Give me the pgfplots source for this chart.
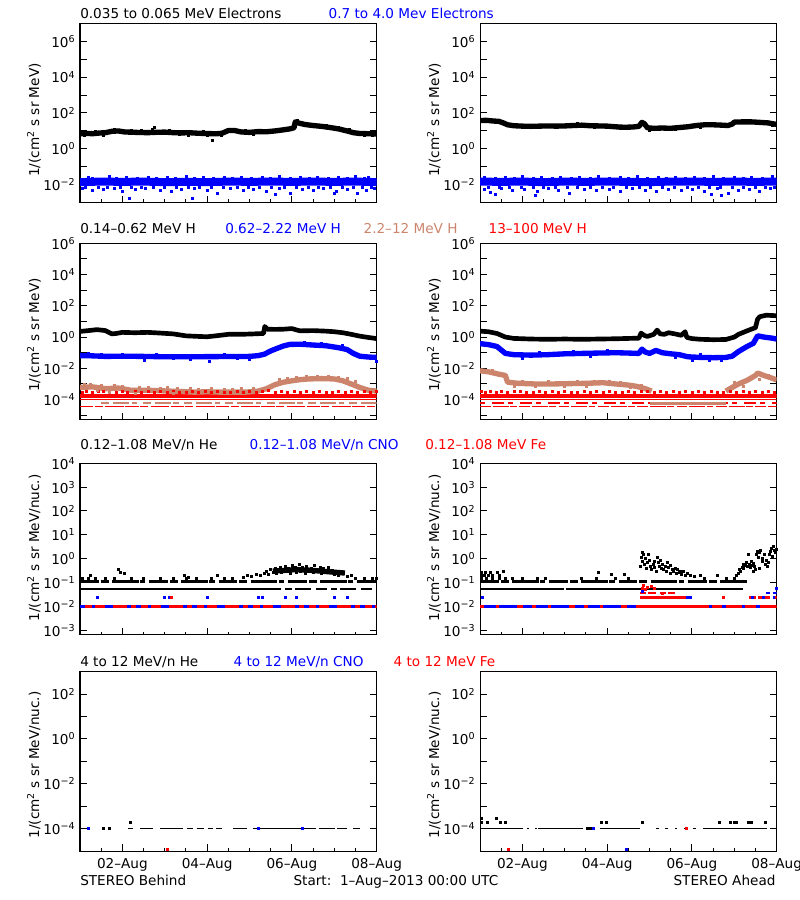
\documentclass[border=0pt]{standalone}
\usepackage{fontspec}
\setmainfont{DejaVu Sans}
\usepackage{pgfplots}
\pgfplotsset{compat=1.18}
\definecolor{ctan}{RGB}{204,133,108}
\newcommand{\tl}[1]{10\textsuperscript{#1}}
\pgfplotsset{every axis/.append style={scale only axis, width=222.5pt, anchor=south west,
    xmin=0, xmax=7, axis line style={line width=0.75pt},
    tick align=inside, tick style={line width=0.75pt, black},
    xtick={1,3,5,7}, minor xtick={0.5,1.5,2,2.5,3.5,4,4.5,5.5,6,6.5},
    xtick pos=left, ytick pos=both,
    major tick length=5pt, minor tick length=2.5pt, yminorticks=false,
    ticklabel style={font=\fontsize{10.2}{12}\selectfont},
    xticklabel style={yshift=-2pt}}}
\begin{document}
\begin{tikzpicture}[font=\fontsize{10.2}{12}\selectfont]
\useasboundingbox (0,0) rectangle (600pt,675pt);

% ================= ROW 1 LEFT =================
\begin{axis}[ymode=log, at={(60pt,522.975pt)}, height=134.55pt, ymin=1e-3, ymax=1e7,
    ytick={1e-2,1e-1,1,10,100,1e3,1e4,1e5,1e6},
    yticklabels={\tl{−2},,\tl{0},,\tl{2},,\tl{4},,\tl{6}}, xticklabels={}]
\addplot[blue, line width=6pt] coordinates {(0,0.014)(0.5,0.015)(1,0.0145)(1.5,0.015)(2,0.014)(2.5,0.0145)(3,0.014)(3.5,0.015)(4,0.0145)(4.5,0.015)(5,0.0145)(5.5,0.015)(6,0.0145)(6.5,0.015)(7,0.014)};
\addplot[only marks, mark=square*, mark size=0.75pt, blue] coordinates {(0.2,0.026)(0.7,0.028)(1.1,0.025)(1.6,0.027)(2.05,0.026)(2.5,0.028)(2.9,0.025)(3.4,0.026)(3.8,0.027)(4.3,0.025)(4.7,0.029)(5.2,0.026)(5.6,0.026)(6.1,0.025)(6.5,0.03)(6.8,0.027)
(0.05,0.006)(0.3,0.005)(0.55,0.0055)(0.8,0.006)(1.0,0.0045)(1.3,0.0055)(1.55,0.006)(1.9,0.005)(2.15,0.0042)(2.4,0.0055)(2.7,0.006)(3.0,0.0048)(3.25,0.0035)(3.55,0.006)(3.85,0.005)(4.1,0.0055)(4.4,0.0045)(4.7,0.006)(4.95,0.0035)(5.25,0.0055)(5.5,0.005)(5.75,0.006)(6.05,0.0045)(6.3,0.0055)(6.55,0.0035)(6.75,0.005)(6.95,0.006)(1.17,0.0018)(2.65,0.0018)(4.6,0.003)(6.0,0.0032)
(0.12,0.0075)(0.42,0.007)(0.65,0.0075)(0.95,0.007)(1.22,0.0072)(1.45,0.007)(1.72,0.0075)(2.0,0.007)(2.28,0.0075)(2.55,0.007)(2.82,0.0072)(3.1,0.007)(3.38,0.0075)(3.7,0.007)(3.98,0.0072)(4.22,0.007)(4.52,0.0075)(4.82,0.007)(5.1,0.0072)(5.38,0.007)(5.62,0.0075)(5.9,0.007)(6.18,0.0072)(6.45,0.007)(6.65,0.0075)(6.88,0.007)
(0.3,0.023)(0.85,0.023)(1.35,0.022)(1.8,0.023)(2.25,0.022)(2.7,0.023)(3.15,0.022)(3.6,0.023)(4.05,0.022)(4.5,0.023)(4.95,0.022)(5.4,0.023)(5.85,0.022)(6.3,0.023)(6.7,0.022)};
\addplot[black, line width=4pt, line join=round] coordinates {(0,7.0)(0.15,7.3)(0.3,7.0)(0.45,7.6)(0.6,8.0)(0.75,9.5)(0.9,10)(1.05,8.8)(1.2,8.5)(1.4,8.2)(1.6,8.0)(1.8,8.4)(2.0,8.6)(2.2,8.0)(2.4,7.8)(2.6,7.9)(2.8,7.4)(3.0,7.2)(3.2,6.9)(3.35,7.4)(3.5,10.5)(3.65,10.5)(3.8,8.8)(4.0,8.3)(4.2,9.2)(4.4,9.0)(4.6,10)(4.8,11.5)(4.95,13)(5.05,15)(5.08,32)(5.15,28)(5.3,23)(5.5,20)(5.7,18)(5.9,15.5)(6.1,13)(6.3,10)(6.45,8)(6.6,7.2)(6.8,7.0)(7.0,6.8)};
\addplot[only marks, mark=square*, mark size=0.75pt, black] coordinates {(0.35,9.5)(1.2,11)(1.45,10.5)(1.7,12)(1.75,16)(2.1,10.5)(2.55,6)(3.13,3)(3.33,5.8)(3.9,11)(4.45,11)(5.12,40)(2.9,9.5)(0.55,6)(4.1,6.5)(6.9,5.7)(6.1,16)(5.55,22)(0.1,5.6)(0.8,12.5)(2.35,6.2)(3.0,5.8)(4.25,11.5)(4.7,13)(5.8,20)(6.35,12.5)(6.7,5.6)};
\end{axis}

% ================= ROW 1 RIGHT =================
\begin{axis}[ymode=log, at={(360pt,522.975pt)}, height=134.55pt, ymin=1e-3, ymax=1e7,
    ytick={1e-2,1e-1,1,10,100,1e3,1e4,1e5,1e6},
    yticklabels={\tl{−2},,\tl{0},,\tl{2},,\tl{4},,\tl{6}}, xticklabels={}]
\addplot[blue, line width=6pt] coordinates {(0,0.015)(0.5,0.0145)(1,0.015)(1.5,0.014)(2,0.015)(2.5,0.0145)(3,0.015)(3.5,0.0145)(4,0.014)(4.5,0.015)(5,0.015)(5.5,0.0145)(6,0.015)(6.5,0.0145)(7,0.015)};
\addplot[only marks, mark=square*, mark size=0.75pt, blue] coordinates {(0.1,0.027)(0.6,0.026)(1.0,0.028)(1.45,0.025)(1.9,0.027)(2.35,0.026)(2.8,0.028)(3.3,0.025)(3.7,0.03)(4.2,0.026)(4.6,0.027)(5.05,0.025)(5.5,0.028)(6.0,0.026)(6.4,0.027)(6.9,0.028)
(0.1,0.0055)(0.25,0.004)(0.5,0.006)(0.75,0.005)(1.05,0.0055)(1.35,0.0045)(1.6,0.006)(1.85,0.0052)(2.1,0.0035)(2.45,0.0058)(2.75,0.005)(3.05,0.0055)(3.3,0.0045)(3.6,0.006)(3.9,0.005)(4.15,0.0045)(4.45,0.0058)(4.75,0.005)(5.0,0.0055)(5.3,0.0045)(5.6,0.006)(5.85,0.0035)(6.1,0.005)(6.35,0.0055)(6.6,0.0045)(6.85,0.006)(0.35,0.003)(1.3,0.0025)(5.45,0.003)(5.7,0.0025)
(0.2,0.0072)(0.45,0.007)(0.7,0.0075)(0.98,0.007)(1.25,0.0072)(1.5,0.007)(1.78,0.0075)(2.05,0.007)(2.3,0.0075)(2.6,0.007)(2.88,0.0072)(3.15,0.007)(3.45,0.0075)(3.75,0.007)(4.02,0.0072)(4.3,0.007)(4.58,0.0075)(4.88,0.007)(5.15,0.0072)(5.42,0.007)(5.68,0.0075)(5.95,0.007)(6.22,0.0072)(6.5,0.007)(6.72,0.0075)(6.95,0.007)
(0.35,0.023)(0.8,0.022)(1.25,0.023)(1.7,0.022)(2.15,0.023)(2.6,0.022)(3.05,0.023)(3.5,0.022)(3.95,0.023)(4.4,0.022)(4.85,0.023)(5.3,0.022)(5.75,0.023)(6.2,0.022)(6.65,0.023)};
\addplot[black, line width=4pt, line join=round] coordinates {(0,38)(0.15,39)(0.3,36)(0.45,34)(0.55,28)(0.65,22)(0.8,19.5)(1.0,18.5)(1.2,18)(1.4,18.5)(1.6,19)(1.8,18.5)(2.0,19)(2.2,20)(2.4,21)(2.6,19.5)(2.8,19)(3.0,18.5)(3.2,17)(3.4,16)(3.6,16.5)(3.75,18)(3.82,30)(3.88,25)(3.95,15)(4.1,14)(4.3,14.5)(4.5,14)(4.7,15.5)(4.9,17)(5.1,20)(5.3,22)(5.5,22)(5.7,21)(5.85,20)(5.95,24)(6.0,31)(6.2,32)(6.4,32)(6.6,30)(6.8,28)(7.0,23)};
\addplot[only marks, mark=square*, mark size=0.75pt, black] coordinates {(2.3,26)(0.2,44)(1.5,22)(3.3,14)(4.2,12)(5.4,26)(6.5,36)(4.6,12.5)(6.9,20)(1.1,15.5)(2.7,16)(4.0,11.5)(5.2,17)(6.2,38)};
\end{axis}

% ================= ROW 2 LEFT =================
\begin{axis}[ymode=log, at={(60pt,360.525pt)}, height=132pt, ymin=5.5e-6, ymax=1e6,
    ytick={1e-5,1e-4,1e-3,1e-2,1e-1,1,10,100,1e3,1e4,1e5,1e6},
    yticklabels={,\tl{−4},,\tl{−2},,\tl{0},,\tl{2},,\tl{4},,\tl{6}}, xticklabels={}]
\addplot[red, line width=1pt, dash pattern=on 10pt off 1pt on 6pt off 2pt on 14pt off 1pt] coordinates {(0,3.8e-5)(7,3.8e-5)};
\addplot[ctan, line width=1.5pt, dash pattern=on 6pt off 3pt on 12pt off 2pt on 4pt off 4pt] coordinates {(0.5,5.9e-5)(7,5.9e-5)};
\addplot[red, line width=1pt] coordinates {(0,1.02e-4)(7,1.02e-4)};
\addplot[red, line width=3pt] coordinates {(0,1.8e-4)(7,1.8e-4)};
\addplot[only marks, mark=square*, mark size=0.75pt, red] coordinates {(0.05,3e-4)(0.15,3.4e-4)(0.3,2.9e-4)(0.42,3.2e-4)(0.55,3.5e-4)(0.7,2.8e-4)(0.85,3.1e-4)(1.0,3.4e-4)(1.12,2.9e-4)(1.3,3.2e-4)(1.45,3e-4)(1.6,3.5e-4)(1.75,2.8e-4)(1.9,3.2e-4)(2.05,3e-4)(2.2,3.4e-4)(2.35,2.9e-4)(2.5,3.1e-4)(2.65,3.5e-4)(2.8,2.8e-4)(2.95,3.2e-4)(3.1,3e-4)(3.25,3.4e-4)(3.4,2.9e-4)(3.55,3.1e-4)(3.7,3.3e-4)(3.85,2.8e-4)(4.0,3.2e-4)(4.15,3e-4)(4.3,3.5e-4)(4.45,3.8e-4)(4.6,2.9e-4)(4.75,3.3e-4)(4.9,3e-4)(5.05,3.4e-4)(5.2,2.8e-4)(5.35,3.2e-4)(5.5,3e-4)(5.65,3.5e-4)(5.8,2.9e-4)(5.95,3.1e-4)(6.1,3.4e-4)(6.25,2.8e-4)(6.4,3.2e-4)(6.55,3e-4)(6.7,3.5e-4)(6.85,2.9e-4)(7.0,3.2e-4)};
\addplot[ctan, line width=4pt, line join=round] coordinates {(0,6e-4)(0.3,6.5e-4)(0.6,5e-4)(0.9,5.5e-4)(1.2,4e-4)(1.5,4e-4)(1.8,3.8e-4)(2.1,3.5e-4)(2.4,3.3e-4)(2.7,3.0e-4)(3.0,3.2e-4)(3.3,3e-4)(3.6,3e-4)(3.9,3e-4)(4.2,3.5e-4)(4.4,5e-4)(4.6,9e-4)(4.8,1.3e-3)(5.0,1.6e-3)(5.2,1.9e-3)(5.4,2.1e-3)(5.7,2.2e-3)(6.0,2.1e-3)(6.2,1.6e-3)(6.4,1.0e-3)(6.6,6e-4)(6.8,4e-4)(7.0,3.5e-4)};
\addplot[only marks, mark=square*, mark size=0.75pt, ctan] coordinates {(0.1,9e-4)(0.5,8e-4)(1.0,7e-4)(1.4,6e-4)(1.9,5e-4)(2.3,5.5e-4)(2.8,4.5e-4)(3.4,4.5e-4)(3.8,5e-4)(4.7,2e-3)(5.1,2.8e-3)(5.6,3e-3)(6.1,2.8e-3)(0.7,3e-4)(1.3,2.7e-4)(4.5,6e-4)(6.5,1.5e-3)(0.25,9.5e-4)(0.8,8.5e-4)(1.6,6.5e-4)(2.05,6e-4)(2.6,5e-4)(3.1,5e-4)(3.6,4.8e-4)(4.1,5.5e-4)(4.9,2.2e-3)(5.35,3e-3)(5.85,3e-3)(6.3,2.2e-3)(0.4,4e-4)(2.2,2.6e-4)};
\addplot[blue, line width=4pt, line join=round] coordinates {(0,0.065)(0.3,0.063)(0.6,0.058)(1.0,0.06)(1.5,0.058)(2.0,0.055)(2.5,0.055)(3.0,0.056)(3.5,0.057)(4.0,0.058)(4.2,0.065)(4.35,0.08)(4.5,0.13)(4.65,0.19)(4.8,0.27)(4.95,0.34)(5.2,0.35)(5.5,0.31)(5.8,0.28)(6.1,0.21)(6.3,0.16)(6.45,0.09)(6.6,0.06)(6.8,0.053)(7.0,0.05)};
\addplot[only marks, mark=square*, mark size=0.75pt, blue] coordinates {(1.52,0.035)(3.05,0.03)(0.2,0.09)(2.2,0.042)(4.0,0.04)(7.0,0.03)(1.0,0.085)(2.6,0.04)(0.5,0.085)(1.8,0.08)(3.4,0.078)(3.7,0.042)(5.3,0.45)(5.7,0.4)(6.2,0.3)};
\addplot[black, line width=3.5pt, line join=round] coordinates {(0,2.3)(0.2,2.6)(0.4,3.0)(0.6,2.6)(0.75,1.6)(0.85,1.7)(1.0,2.0)(1.3,1.9)(1.6,2.0)(1.9,1.8)(2.2,1.6)(2.5,1.2)(2.8,1.1)(3.0,1.05)(3.2,1.2)(3.5,1.5)(3.8,1.5)(4.1,1.6)(4.33,1.7)(4.36,4.8)(4.42,3.2)(4.6,3.1)(4.8,3.2)(5.0,3.5)(5.1,2.9)(5.2,2.5)(5.5,2.6)(5.8,2.4)(6.0,2.2)(6.2,1.9)(6.4,1.5)(6.6,1.15)(6.8,0.95)(7.0,0.8)};
\end{axis}

% ================= ROW 2 RIGHT =================
\begin{axis}[ymode=log, at={(360pt,360.525pt)}, height=132pt, ymin=5.5e-6, ymax=1e6,
    ytick={1e-5,1e-4,1e-3,1e-2,1e-1,1,10,100,1e3,1e4,1e5,1e6},
    yticklabels={,\tl{−4},,\tl{−2},,\tl{0},,\tl{2},,\tl{4},,\tl{6}}, xticklabels={}]
\addplot[red, line width=1pt, dash pattern=on 8pt off 1.5pt on 12pt off 1pt on 5pt off 2pt] coordinates {(0,3.8e-5)(7,3.8e-5)};
\addplot[red, line width=1pt, dash pattern=on 4pt off 5pt on 9pt off 3pt] coordinates {(0,6.2e-5)(7,6.2e-5)};
\addplot[ctan, line width=2pt] coordinates {(4.0,5.9e-5)(5.8,5.9e-5)};
\addplot[red, line width=1pt] coordinates {(0,1.02e-4)(7,1.02e-4)};
\addplot[red, line width=3pt] coordinates {(0,1.8e-4)(7,1.8e-4)};
\addplot[only marks, mark=square*, mark size=0.75pt, red] coordinates {(0.02,3.2e-4)(0.12,2.9e-4)(0.25,3.5e-4)(0.38,3e-4)(0.5,3.3e-4)(0.65,2.8e-4)(0.8,3.2e-4)(0.95,3.4e-4)(1.1,2.9e-4)(1.25,3.1e-4)(1.4,3.5e-4)(1.55,2.8e-4)(1.7,3.2e-4)(1.85,3e-4)(2.0,3.4e-4)(2.15,2.9e-4)(2.3,3.1e-4)(2.45,3.5e-4)(2.6,2.8e-4)(2.75,3.2e-4)(2.9,3e-4)(3.05,3.4e-4)(3.2,2.9e-4)(3.35,3.1e-4)(3.5,3.3e-4)(3.65,2.8e-4)(3.8,3.2e-4)(3.95,3.6e-4)(4.1,3e-4)(4.25,3.5e-4)(4.4,2.9e-4)(4.55,3.3e-4)(4.7,3e-4)(4.85,3.4e-4)(5.0,2.8e-4)(5.15,3.2e-4)(5.3,3e-4)(5.45,3.5e-4)(5.6,2.9e-4)(5.75,3.1e-4)(5.9,3.4e-4)(6.05,2.8e-4)(6.2,3.2e-4)(6.35,3e-4)(6.5,3.5e-4)(6.65,2.9e-4)(6.8,3.3e-4)(6.95,3e-4)};
\addplot[ctan, line width=4pt, line join=round] coordinates {(0,7e-3)(0.2,6e-3)(0.45,4.2e-3)(0.6,3.5e-3)(0.65,1.3e-3)(0.9,1.1e-3)(1.3,1.0e-3)(1.7,1.0e-3)(2.1,1.05e-3)(2.5,1.1e-3)(2.9,1.2e-3)(3.2,1.0e-3)(3.5,8.5e-4)(3.7,7e-4)(3.9,5e-4)(4.05,3.5e-4)};
\addplot[ctan, line width=4pt, line join=round] coordinates {(5.8,3.5e-4)(5.95,6e-4)(6.1,1e-3)(6.3,1.7e-3)(6.5,3.5e-3)(6.55,5e-3)(6.7,3.5e-3)(6.9,2.3e-3)(7.0,1.8e-3)};
\addplot[only marks, mark=square*, mark size=0.75pt, ctan] coordinates {(0.3,8e-3)(1.0,1.5e-3)(1.6,1.4e-3)(2.3,1.5e-3)(2.7,1.6e-3)(3.3,1.3e-3)(3.8,8e-4)(0.8,7e-4)(2.0,7e-4)(6.2,7e-4)(6.6,2e-3)(1.3,7.2e-4)(2.5,7.5e-4)(3.05,1.6e-3)(3.55,6e-4)(6.0,1.2e-3)(6.8,3.8e-3)};
\addplot[blue, line width=4pt, line join=round] coordinates {(0,0.38)(0.2,0.33)(0.4,0.25)(0.6,0.09)(0.8,0.075)(1.2,0.07)(1.6,0.075)(2.0,0.085)(2.4,0.09)(2.8,0.095)(3.2,0.1)(3.5,0.095)(3.75,0.09)(3.82,0.17)(3.9,0.11)(4.0,0.09)(4.15,0.14)(4.3,0.1)(4.5,0.085)(4.7,0.075)(4.9,0.055)(5.2,0.05)(5.5,0.048)(5.8,0.05)(5.95,0.06)(6.1,0.12)(6.3,0.25)(6.45,0.4)(6.55,1.2)(6.7,1.0)(6.9,0.85)(7.0,0.75)};
\addplot[only marks, mark=square*, mark size=0.75pt, blue] coordinates {(5.0,0.035)(5.4,0.032)(5.7,0.033)(1.0,0.045)(2.6,0.06)(4.6,0.05)(1.4,0.11)(2.2,0.13)(3.0,0.14)(5.2,0.075)};
\addplot[black, line width=3.5pt, line join=round] coordinates {(0,2.4)(0.2,2.2)(0.4,1.7)(0.6,1.0)(0.8,0.82)(1.2,0.75)(1.6,0.72)(2.0,0.75)(2.4,0.72)(2.8,0.75)(3.2,0.78)(3.5,0.82)(3.75,0.85)(3.8,1.8)(3.87,1.3)(3.95,1.1)(4.1,1.5)(4.18,2.8)(4.25,1.6)(4.35,1.5)(4.45,1.9)(4.6,1.6)(4.75,1.3)(4.84,2.2)(4.88,0.95)(5.0,0.8)(5.2,0.72)(5.5,0.68)(5.8,0.7)(6.0,1.0)(6.1,1.5)(6.25,2.2)(6.4,3.2)(6.5,4.0)(6.55,14)(6.6,20)(6.75,25)(6.9,24)(7.0,23)};
\end{axis}

% ================= ROW 3 LEFT =================
\begin{axis}[ymode=log, at={(60pt,198.75pt)}, height=128.775pt, ymin=6.3e-4, ymax=1e4,
    ytick={1e-3,1e-2,1e-1,1,10,100,1e3,1e4},
    yticklabels={\tl{−3},\tl{−2},\tl{−1},\tl{0},\tl{1},\tl{2},\tl{3},\tl{4}}, xticklabels={}]
\addplot[red, line width=2pt] coordinates {(0,0.01)(7,0.01)};
\addplot[blue, line width=2pt, dash pattern=on 4pt off 5pt on 2pt off 8pt on 6pt off 10pt on 3pt off 4pt] coordinates {(0,0.01)(7,0.01)};
\addplot[only marks, mark=square*, mark size=0.75pt, blue] coordinates {(0.4,0.023)(2.0,0.023)(2.1,0.023)(3.0,0.023)(4.2,0.023)(4.3,0.023)(4.85,0.023)(5.1,0.023)(6.0,0.023)(6.3,0.023)};
\addplot[only marks, mark=square*, mark size=0.75pt, red] coordinates {(2.15,0.023)};
\addplot[black, line width=1.5pt] coordinates {(0,0.054)(4.5,0.054)};
\addplot[black, line width=1.5pt, dash pattern=on 8pt off 3pt on 5pt off 2pt on 12pt off 4pt] coordinates {(4.5,0.054)(7,0.054)};
\addplot[black, line width=2pt, dash pattern=on 14pt off 1.5pt on 6pt off 2.5pt on 20pt off 1pt on 4pt off 3pt] coordinates {(0,0.107)(7,0.107)};
\addplot[only marks, mark=square*, mark size=0.75pt, black] coordinates {(0.05,0.15)(0.2,0.15)(0.35,0.15)(0.6,0.15)(0.8,0.15)(1.2,0.15)(1.5,0.15)(1.9,0.15)(2.2,0.15)(2.5,0.15)(2.55,0.17)(2.75,0.15)(3.1,0.15)(3.4,0.15)(3.6,0.15)(6.5,0.15)(6.7,0.15)(6.9,0.15)(7.0,0.15)(0.9,0.35)(0.95,0.28)(1.05,0.25)(0.25,0.2)(2.45,0.2)(3.25,0.2)
(3.85,0.17)(3.95,0.2)(4.05,0.18)(4.15,0.22)(4.25,0.2)(4.35,0.25)(4.4,0.3)(4.45,0.22)(4.5,0.35)(4.55,0.28)(4.6,0.4)(4.62,0.25)(4.68,0.32)(4.72,0.45)(4.75,0.27)(4.8,0.35)(4.85,0.5)(4.88,0.3)(4.92,0.4)(4.95,0.25)(5.0,0.55)(5.03,0.33)(5.07,0.42)(5.1,0.28)(5.14,0.38)(5.18,0.6)(5.2,0.3)(5.25,0.45)(5.28,0.35)(5.32,0.25)(5.35,0.5)(5.4,0.32)(5.45,0.4)(5.5,0.28)(5.52,0.55)(5.58,0.35)(5.62,0.3)(5.66,0.45)(5.7,0.25)(5.75,0.38)(5.8,0.3)(5.85,0.42)(5.9,0.28)(5.95,0.33)(6.0,0.22)(6.05,0.3)(6.1,0.2)(6.2,0.25)(6.3,0.18)(6.4,0.2)};
\addplot[black, line width=4pt, line join=round] coordinates {(4.55,0.3)(4.8,0.32)(5.1,0.35)(5.4,0.33)(5.7,0.3)(6.0,0.27)(6.25,0.25)};
\end{axis}

% ================= ROW 3 RIGHT =================
\begin{axis}[ymode=log, at={(360pt,198.75pt)}, height=128.775pt, ymin=6.3e-4, ymax=1e4,
    ytick={1e-3,1e-2,1e-1,1,10,100,1e3,1e4},
    yticklabels={\tl{−3},\tl{−2},\tl{−1},\tl{0},\tl{1},\tl{2},\tl{3},\tl{4}}, xticklabels={}]
\addplot[blue, line width=2pt] coordinates {(0,0.01)(3.78,0.01)};
\addplot[red, line width=2pt, dash pattern=on 3pt off 9pt on 2pt off 14pt on 4pt off 7pt] coordinates {(0,0.01)(3.78,0.01)};
\addplot[red, line width=2pt] coordinates {(3.78,0.01)(7,0.01)};
\addplot[blue, line width=2pt, dash pattern=on 2pt off 8pt on 3pt off 12pt] coordinates {(5.4,0.01)(6.7,0.01)};
\addplot[red, line width=2pt] coordinates {(3.78,0.023)(4.85,0.023)};
\addplot[blue, line width=2pt] coordinates {(4.85,0.023)(5.0,0.023)};
\addplot[red, line width=2pt, dash pattern=on 5pt off 2pt on 3pt off 1pt] coordinates {(6.35,0.023)(7,0.023)};
\addplot[blue, line width=2pt, dash pattern=on 2pt off 6pt] coordinates {(6.4,0.023)(7,0.023)};
\addplot[red, line width=2pt, dash pattern=on 4pt off 2pt on 6pt off 3pt] coordinates {(3.78,0.036)(4.6,0.036)};
\addplot[blue, line width=2pt, dash pattern=on 3pt off 2pt] coordinates {(6.75,0.036)(7,0.036)};
\addplot[only marks, mark=square*, mark size=0.75pt, red] coordinates {(3.82,0.06)(3.86,0.075)(3.9,0.05)(3.95,0.065)(4.05,0.07)(4.1,0.055)(4.3,0.036)(5.75,0.023)};
\addplot[only marks, mark=square*, mark size=0.75pt, blue] coordinates {(0.05,0.023)(6.98,0.057)(3.83,0.045)};
\addplot[black, line width=1.5pt] coordinates {(0,0.054)(1.98,0.054)};
\addplot[black, line width=1.5pt] coordinates {(2.03,0.054)(6.2,0.054)};
\addplot[black, line width=2pt, dash pattern=on 14pt off 1.5pt on 6pt off 2.5pt on 20pt off 1pt on 4pt off 3pt] coordinates {(0,0.107)(6.3,0.107)};
\addplot[only marks, mark=square*, mark size=0.75pt, black] coordinates {(0.02,0.15)(0.15,0.15)(0.3,0.15)(0.45,0.15)(0.6,0.15)(0.75,0.15)(1.0,0.15)(1.35,0.15)(1.55,0.15)(2.4,0.15)(2.75,0.15)(3.2,0.15)(3.5,0.15)(5.3,0.15)(5.8,0.15)(6.0,0.15)(0.02,0.2)(0.1,0.2)(0.2,0.2)(0.3,0.2)(0.45,0.2)(0.02,0.28)(0.12,0.28)(0.25,0.28)(0.4,0.28)(0.55,0.3)(2.8,0.28)(3.1,0.22)(3.4,0.22)(5.6,0.2)(5.2,0.2)
(3.78,0.5)(3.8,1.2)(3.82,1.8)(3.84,0.8)(3.86,1.5)(3.88,0.6)(3.9,1.0)(3.92,0.4)(3.95,0.7)(3.98,1.6)(4.0,0.9)(4.02,0.5)(4.05,0.35)(4.08,0.6)(4.1,0.45)(4.12,0.8)(4.15,0.3)(4.18,1.1)(4.2,0.7)(4.22,0.5)(4.25,0.9)(4.28,0.4)(4.3,0.6)(4.33,0.35)(4.36,0.5)(4.4,0.3)(4.42,0.7)(4.45,0.45)(4.48,0.25)(4.5,0.55)(4.53,0.35)(4.56,0.3)(4.6,0.4)(4.63,0.25)(4.66,0.35)(4.7,0.28)(4.73,0.3)(4.76,0.22)(4.8,0.3)(4.84,0.2)(4.88,0.25)(4.95,0.2)(5.05,0.18)
(6.05,0.2)(6.1,0.25)(6.12,0.35)(6.15,0.3)(6.18,0.45)(6.2,0.6)(6.22,0.4)(6.25,0.55)(6.28,0.7)(6.3,0.5)(6.32,1.5)(6.35,0.6)(6.38,0.45)(6.4,0.8)(6.42,0.55)(6.45,0.65)(6.48,0.5)(6.5,0.35)(6.52,1.5)(6.55,2.0)(6.57,1.2)(6.6,1.8)(6.62,2.3)(6.65,1.0)(6.67,0.8)(6.7,1.5)(6.72,0.6)(6.75,0.9)(6.78,0.5)(6.8,0.7)(6.83,1.6)(6.85,2.0)(6.88,2.8)(6.9,1.3)(6.92,3.2)(6.95,2.2)(6.97,1.8)(7.0,2.5)(6.45,0.3)(6.6,0.4)};
\end{axis}

% ================= ROW 4 LEFT =================
\begin{axis}[ymode=log, at={(60pt,36.75pt)}, height=134.475pt, ymin=1e-5, ymax=1e3,
    ytick={1e-4,1e-3,1e-2,1e-1,1,10,100},
    yticklabels={\tl{−4},,\tl{−2},,\tl{0},,\tl{2}},
    xticklabels={02–Aug,04–Aug,06–Aug,08–Aug}]
\addplot[black, line width=0.75pt] coordinates {(0.04,1e-4)(0.24,1e-4)};
\addplot[black, line width=0.75pt] coordinates {(1.14,1e-4)(1.26,1e-4)};
\addplot[black, line width=0.75pt] coordinates {(1.42,1e-4)(1.73,1e-4)};
\addplot[black, line width=0.75pt] coordinates {(1.89,1e-4)(2.44,1e-4)};
\addplot[black, line width=0.75pt, dash pattern=on 5pt off 3pt] coordinates {(2.52,1e-4)(3.14,1e-4)};
\addplot[black, line width=0.75pt] coordinates {(3.22,1e-4)(3.34,1e-4)};
\addplot[black, line width=0.75pt] coordinates {(3.62,1e-4)(3.93,1e-4)};
\addplot[black, line width=0.75pt] coordinates {(4.09,1e-4)(5.19,1e-4)};
\addplot[black, line width=0.75pt, dash pattern=on 12pt off 2pt] coordinates {(5.19,1e-4)(6.29,1e-4)};
\addplot[black, line width=0.75pt] coordinates {(6.45,1e-4)(6.6,1e-4)};
\addplot[only marks, mark=square*, mark size=0.75pt, black] coordinates {(0.55,1e-4)(0.7,1e-4)(1.19,2e-4)};
\addplot[only marks, mark=square*, mark size=0.75pt, blue] coordinates {(0.2,1e-4)(4.2,1e-4)(5.25,1e-4)};
\addplot[only marks, mark=square*, mark size=0.75pt, red] coordinates {(2.05,1.2e-5)};
\end{axis}

% ================= ROW 4 RIGHT =================
\begin{axis}[ymode=log, at={(360pt,36.75pt)}, height=134.475pt, ymin=1e-5, ymax=1e3,
    ytick={1e-4,1e-3,1e-2,1e-1,1,10,100},
    yticklabels={\tl{−4},,\tl{−2},,\tl{0},,\tl{2}},
    xticklabels={02–Aug,04–Aug,06–Aug,08–Aug}]
\addplot[black, line width=0.75pt] coordinates {(0.04,1e-4)(1.02,1e-4)};
\addplot[black, line width=0.75pt, dash pattern=on 2pt off 4pt] coordinates {(1.1,1e-4)(1.35,1e-4)};
\addplot[black, line width=0.75pt] coordinates {(1.38,1e-4)(2.44,1e-4)};
\addplot[black, line width=0.75pt] coordinates {(2.83,1e-4)(3.77,1e-4)};
\addplot[black, line width=0.75pt, dash pattern=on 2pt off 5pt] coordinates {(4.15,1e-4)(5.2,1e-4)};
\addplot[black, line width=0.75pt] coordinates {(5.27,1e-4)(6.76,1e-4)};
\addplot[only marks, mark=square*, mark size=0.75pt, black] coordinates {(0.04,2.8e-4)(0.04,2e-4)(0.16,2e-4)(0.39,2.8e-4)(0.47,2e-4)(0.59,2e-4)(2.87,2e-4)(2.99,2e-4)(3.84,2e-4)(5.65,2e-4)(5.9,2e-4)(6.0,2e-4)(6.05,2e-4)(6.33,2e-4)(6.4,2e-4)(6.72,2e-4)(2.52,1e-4)(2.6,1e-4)};
\addplot[only marks, mark=square*, mark size=0.75pt, blue] coordinates {(2.67,1e-4)(3.46,1.2e-5)};
\addplot[only marks, mark=square*, mark size=0.75pt, red] coordinates {(0.67,1.2e-5)(4.87,1e-4)};
\end{axis}

% ================= TEXT =================
\begin{scope}[every node/.style={inner sep=0pt}]
\node[anchor=base west] at (60pt,661.3pt) {0.035 to 0.065 MeV Electrons};
\node[anchor=base west, text=blue] at (246.25pt,661.3pt) {0.7 to 4.0 Mev Electrons};
\node[anchor=base west] at (60pt,500pt) {0.14–0.62 MeV H};
\node[anchor=base west, text=blue] at (168.75pt,500pt) {0.62–2.22 MeV H};
\node[anchor=base west, text=ctan] at (272.5pt,500pt) {2.2–12 MeV H};
\node[anchor=base west, text=red] at (366.25pt,500pt) {13–100 MeV H};
\node[anchor=base west] at (60pt,337.5pt) {0.12–1.08 MeV/n He};
\node[anchor=base west, text=blue] at (187pt,337.5pt) {0.12–1.08 MeV/n CNO};
\node[anchor=base west, text=red] at (318.75pt,337.5pt) {0.12–1.08 MeV Fe};
\node[anchor=base west] at (60pt,175pt) {4 to 12 MeV/n He};
\node[anchor=base west, text=blue] at (175pt,175pt) {4 to 12 MeV/n CNO};
\node[anchor=base west, text=red] at (295pt,175pt) {4 to 12 MeV Fe};
\node[anchor=base west] at (60pt,11pt) {STEREO Behind};
\node[anchor=base west] at (220pt,11pt) {Start:\ \ 1–Aug–2013 00:00 UTC};
\node[anchor=base east] at (581.8pt,11pt) {STEREO Ahead};
\node[rotate=90] at (25.5pt,585pt) {1/(cm\textsuperscript{2} s sr MeV)};
\node[rotate=90] at (25.5pt,423.75pt) {1/(cm\textsuperscript{2} s sr MeV)};
\node[rotate=90] at (25.5pt,264pt) {1/(cm\textsuperscript{2} s sr MeV/nuc.)};
\node[rotate=90] at (25.5pt,101.25pt) {1/(cm\textsuperscript{2} s sr MeV/nuc.)};
\node[rotate=90] at (325.5pt,585pt) {1/(cm\textsuperscript{2} s sr MeV)};
\node[rotate=90] at (325.5pt,423.75pt) {1/(cm\textsuperscript{2} s sr MeV)};
\node[rotate=90] at (325.5pt,264pt) {1/(cm\textsuperscript{2} s sr MeV/nuc.)};
\node[rotate=90] at (325.5pt,101.25pt) {1/(cm\textsuperscript{2} s sr MeV/nuc.)};
\end{scope}
\end{tikzpicture}
\end{document}
